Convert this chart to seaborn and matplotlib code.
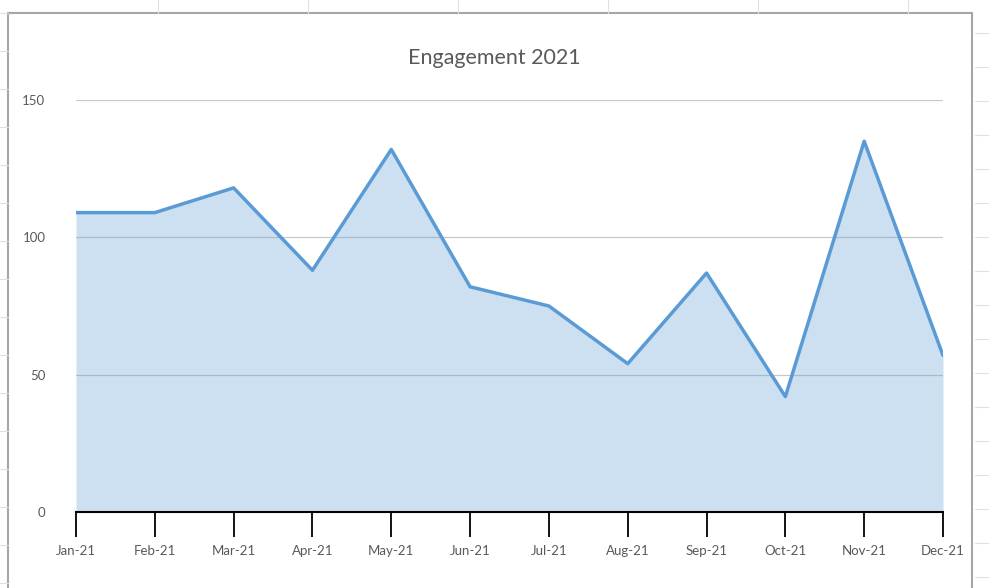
import numpy as np
import pandas as pd
import seaborn as sns
from matplotlib import pyplot as plt
from matplotlib.lines import Line2D
from matplotlib.patches import Rectangle

months = ['Jan-21', 'Feb-21', 'Mar-21', 'Apr-21', 'May-21', 'Jun-21',
          'Jul-21', 'Aug-21', 'Sep-21', 'Oct-21', 'Nov-21', 'Dec-21']
engagement = [109, 109, 118, 88, 132, 82, 75, 54, 87, 42, 135, 57]
y_ticks = [0, 50, 100, 150]

sns.set_style('white')
plt.rcParams['font.family'] = ['Lato', 'DejaVu Sans']

df = pd.DataFrame({'month': months, 'value': engagement})
df['pos'] = np.arange(len(df))

W, H = 989, 588
fig = plt.figure(figsize=(W / 100, H / 100), dpi=100)

# spreadsheet cells behind the chart
cell = '#e0e0e0'
for yy in np.arange(13, H, 38):
    fig.add_artist(Line2D([0, 8 / W], [1 - yy / H] * 2, color=cell, lw=0.8))
for yy in np.arange(33, H, 34):
    fig.add_artist(Line2D([975 / W, 1], [1 - yy / H] * 2, color=cell, lw=0.8))
for xx in np.arange(158, 972, 150):
    fig.add_artist(Line2D([xx / W] * 2, [1 - 13 / H, 1], color=cell, lw=0.8))
# chart frame
fig.add_artist(Rectangle((8 / W, -0.05), 964 / W, 1.05 - 13 / H, transform=fig.transFigure,
                         fill=False, edgecolor='#a6a6a6', lw=1.5))

ax = fig.add_axes([76 / W, 76 / H, 867 / W, 412 / H])
ax.fill_between(df['pos'], df['value'], 0, color='#5B9BD5', alpha=0.3, lw=0, zorder=2)
sns.lineplot(data=df, x='pos', y='value', ax=ax, color='#5B9BD5', lw=2.5, zorder=3)

ax.set_xlim(0, 11)
ax.set_ylim(0, 150)
ax.set_xticks(df['pos'])
ax.set_xticklabels(months)
ax.set_yticks(y_ticks)
ax.set_xlabel('')
ax.set_ylabel('')
ax.yaxis.grid(True, color='#c8c8c8', lw=0.9)
ax.set_axisbelow(True)
for s in ['left', 'right', 'top']:
    ax.spines[s].set_visible(False)
ax.spines['bottom'].set_color('black')
ax.spines['bottom'].set_linewidth(1.5)
ax.spines['bottom'].set_zorder(4)
ax.tick_params(axis='x', direction='out', length=18, width=1.3, color='black',
               labelsize=9.5, labelcolor='#595959', pad=6, bottom=True)
ax.tick_params(axis='y', length=0, labelsize=9.5, labelcolor='#595959', pad=22)

fig.text(0.5, 1 - 58 / H, 'Engagement 2021', ha='center', va='center',
         fontsize=15.5, color='#595959')

plt.savefig('out.png', dpi=100)
